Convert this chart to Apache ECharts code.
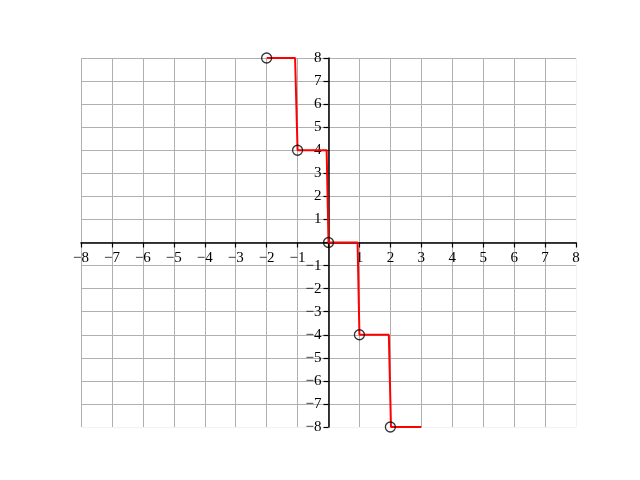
<!DOCTYPE html>
<html>
<head>
<meta charset="utf-8">
<script src="https://cdn.jsdelivr.net/npm/echarts@6/dist/echarts.min.js"></script>
<style>html,body{margin:0;padding:0;background:#fff;}#c{width:640px;height:480px;}</style>
</head>
<body>
<div id="c"></div>
<script>
// Step function y = -4*floor(x), drawn as polyline with slightly slanted risers
var lineX = [-2, -1.08, -1.0, -0.06, 0.0, 0.94, 1.0, 1.95, 2.02, 3.0];
var lineY = [8, 8, 4, 4, 0, 0, -4, -4, -8, -8];
// Open circles at left end of each step
var circleX = [-2, -1, 0, 1, 2];
var circleY = [8, 4, 0, -4, -8];
var xTicks = [-8, -7, -6, -5, -4, -3, -2, -1, 0, 1, 2, 3, 4, 5, 6, 7, 8];
var yTicks = [-8, -7, -6, -5, -4, -3, -2, -1, 0, 1, 2, 3, 4, 5, 6, 7, 8];

var lineData = lineX.map(function (x, i) { return [x, lineY[i]]; });
var circleData = circleX.map(function (x, i) { return [x, circleY[i]]; });

function fmt(v) {
  if (v === 0) return '';
  return v < 0 ? '\u2212' + Math.abs(v) : String(v);
}
var gridGray = '#b0b0b0';
var xSplitColors = xTicks.map(function (v) { return v === 8 ? '#f2f2f2' : gridGray; });
var ySplitColors = yTicks.map(function (v) { return v === -8 ? '#f2f2f2' : gridGray; });

var G = { left: 81, right: 64, top: 58, bottom: 53 };
var W = 640 - G.left - G.right, H = 480 - G.top - G.bottom;

var chart = echarts.init(document.getElementById('c'), null, { renderer: 'canvas' });
chart.setOption({
  animation: false,
  backgroundColor: '#fff',
  grid: { left: G.left, right: G.right, top: G.top, bottom: G.bottom, containLabel: false },
  xAxis: [{
    type: 'value', min: -8, max: 8, interval: 1,
    splitLine: { show: true, lineStyle: { color: xSplitColors, width: 1 } },
    axisLine: { show: false }, axisTick: { show: false }, axisLabel: { show: false }
  }, {
    type: 'value', min: -8, max: 8, interval: 1, position: 'bottom', offset: -H / 2,
    axisLine: { show: true, onZero: false, lineStyle: { color: '#000', width: 1.5 } },
    axisTick: { show: true, length: 5, lineStyle: { color: '#000', width: 1.2 } },
    axisLabel: { formatter: fmt, margin: 8, color: '#000', fontFamily: 'Liberation Serif', fontSize: 15, showMinLabel: true, showMaxLabel: true },
    splitLine: { show: false }
  }],
  yAxis: [{
    type: 'value', min: -8, max: 8, interval: 1,
    splitLine: { show: true, lineStyle: { color: ySplitColors, width: 1 } },
    axisLine: { show: false }, axisTick: { show: false }, axisLabel: { show: false }
  }, {
    type: 'value', min: -8, max: 8, interval: 1, position: 'left', offset: -W / 2,
    axisLine: { show: true, onZero: false, lineStyle: { color: '#000', width: 1.5 } },
    axisTick: { show: true, length: 5, lineStyle: { color: '#000', width: 1.2 } },
    axisLabel: { formatter: fmt, margin: 7, color: '#000', fontFamily: 'Liberation Serif', fontSize: 15, showMinLabel: true, showMaxLabel: true },
    splitLine: { show: false }
  }],
  series: [
    {
      type: 'line', data: lineData, showSymbol: false, symbol: 'none',
      lineStyle: { color: '#ff0000', width: 2 }, z: 3, clip: true
    },
    {
      type: 'scatter', data: circleData, symbol: 'circle', symbolSize: 10,
      itemStyle: { color: 'rgba(0,0,0,0)', borderColor: '#000', borderWidth: 1.3 },
      z: 4, clip: false
    }
  ]
});
</script>
</body>
</html>
